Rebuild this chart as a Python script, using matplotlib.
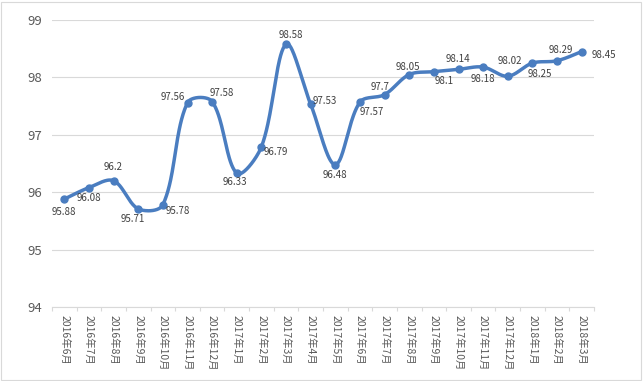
import numpy as np
import matplotlib
matplotlib.use("Agg")
import matplotlib.pyplot as plt
from matplotlib.patches import Rectangle

plt.rcParams['font.family'] = ['Noto Sans CJK SC', 'DejaVu Sans']

months = ["2016年6月", "2016年7月", "2016年8月", "2016年9月", "2016年10月", "2016年11月",
          "2016年12月", "2017年1月", "2017年2月", "2017年3月", "2017年4月", "2017年5月",
          "2017年6月", "2017年7月", "2017年8月", "2017年9月", "2017年10月", "2017年11月",
          "2017年12月", "2018年1月", "2018年2月", "2018年3月"]
values = [95.88, 96.08, 96.2, 95.71, 95.78, 97.56, 97.58, 96.33, 96.79, 98.58, 97.53,
          96.48, 97.57, 97.7, 98.05, 98.1, 98.14, 98.18, 98.02, 98.25, 98.29, 98.45]
value_labels = ["95.88", "96.08", "96.2", "95.71", "95.78", "97.56", "97.58", "96.33",
                "96.79", "98.58", "97.53", "96.48", "97.57", "97.7", "98.05", "98.1",
                "98.14", "98.18", "98.02", "98.25", "98.29", "98.45"]
y_ticks = [94, 95, 96, 97, 98, 99]

# label offsets (pixels) relative to each point
label_offsets = [(0, -13), (0, -10), (0, 14), (-5, -10), (15, -6), (-15, 6), (10, 9),
                 (-2, -9), (14, -5), (5, 9), (14, 3), (0, -10), (12, -10), (-5, 8),
                 (-1, 8), (10, -9), (-1, 10), (0, -12), (2, 15), (7, -11), (4, 11), (22, -3)]

W, H = 643, 381
L, R, T, B = 52, 594, 20, 307
fig = plt.figure(figsize=(W / 100, H / 100), dpi=100)
ax = fig.add_axes([L / W, (H - B) / H, (R - L) / W, (B - T) / H])

color = '#4A7DC0'
n = len(values)
x = np.arange(n, dtype=float)
y = np.array(values)

# Excel-like smoothing: Bezier with chord-length weighted tangents (screen space)
sx = (R - L) / n
sy = (B - T) / 5.0
pts = np.column_stack([x, y])
scr = np.column_stack([x * sx, y * sy])


def ctrl(i):
    """tangent vector (data space) at point i, and segment lengths"""
    a = max(i - 1, 0)
    b = min(i + 1, n - 1)
    return pts[b] - pts[a], np.linalg.norm(scr[i] - scr[a]), np.linalg.norm(scr[b] - scr[i])


px, py = [], []
tension = 1.0 / 3.0
for i in range(n - 1):
    p1, p2 = pts[i], pts[i + 1]
    t1, d01, d12 = ctrl(i)
    t2, d12b, d23 = ctrl(i + 1)
    w1 = d12 / (d01 + d12) if (d01 + d12) > 0 else 0.5
    w2 = d12b / (d12b + d23) if (d12b + d23) > 0 else 0.5
    if i == 0:
        w1 = 0.5
    if i + 1 == n - 1:
        w2 = 0.5
    c1 = p1 + t1 * w1 * tension
    c2 = p2 - t2 * w2 * tension
    t = np.linspace(0, 1, 40)[:, None]
    bz = ((1 - t) ** 3) * p1 + 3 * ((1 - t) ** 2) * t * c1 + 3 * (1 - t) * t ** 2 * c2 + t ** 3 * p2
    px.extend(bz[:, 0]); py.extend(bz[:, 1])

ax.plot(px, py, color=color, lw=2.5, solid_capstyle='round', zorder=3)
ax.plot(x, y, 'o', color=color, markersize=5, zorder=4)

for xi, yi, lab, (dx, dy) in zip(x, y, value_labels, label_offsets):
    ax.annotate(lab, (xi, yi), xytext=(dx, dy), textcoords='offset pixels',
                ha='center', va='center', fontsize=7, color='#404040', zorder=5)

ax.set_xlim(-0.5, n - 0.5)
ax.set_ylim(94, 99)
ax.set_yticks(y_ticks)
ax.set_yticklabels([str(v) for v in y_ticks])
ax.set_xticks(x)
ax.set_xticklabels(months, rotation=-90, fontsize=7.5, color='#595959', va='top', ha='center')
ax.set_xticks(np.arange(-0.5, n, 1), minor=True)
ax.tick_params(axis='x', which='major', length=0, pad=5.8)
ax.tick_params(axis='x', which='minor', length=3, color='#D9D9D9', width=0.8)
ax.tick_params(axis='y', length=0, pad=7, labelsize=9.5, labelcolor='#595959')

ax.grid(axis='y', color='#D9D9D9', lw=0.8)
ax.set_axisbelow(True)
for s in ['left', 'right', 'top']:
    ax.spines[s].set_visible(False)
ax.spines['bottom'].set_color('#D9D9D9')
ax.spines['bottom'].set_linewidth(0.8)

fig.patches.append(Rectangle((0.5 / W, 1.5 / H), (W - 3) / W, (H - 3) / H,
                             transform=fig.transFigure, fill=False,
                             edgecolor='#D9D9D9', lw=0.8))

fig.savefig('out.png', dpi=100)
